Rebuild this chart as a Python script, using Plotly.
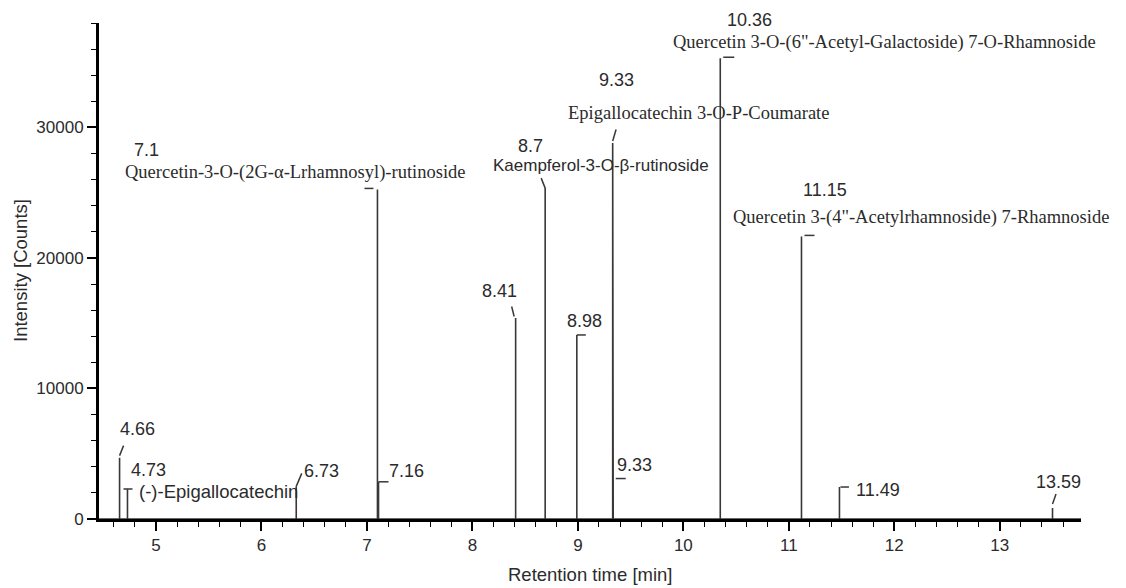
import plotly.graph_objects as go

# ---------------- data ----------------
retention_time = [4.655, 4.73, 6.33, 7.10, 7.11, 8.41, 8.69, 8.99, 9.33, 9.335, 10.35, 11.12, 11.48, 13.50]
intensity = [4700, 2300, 2500, 25250, 2850, 15400, 25350, 14100, 28800, 3100, 35300, 21650, 2450, 840]
peak_label = ["4.66", "4.73", "6.73", "7.1", "7.16", "8.41", "8.7", "8.98", "9.33", "9.33",
              "10.36", "11.15", "11.49", "13.59"]
compound = ["", "(-)-Epigallocatechin", "", "Quercetin-3-O-(2G-α-Lrhamnosyl)-rutinoside", "", "",
            "Kaempferol-3-O-β-rutinoside", "", "Epigallocatechin 3-O-P-Coumarate", "",
            'Quercetin 3-O-(6"-Acetyl-Galactoside) 7-O-Rhamnoside',
            'Quercetin 3-(4"-Acetylrhamnoside) 7-Rhamnoside', "", ""]
x_ticks = [5, 6, 7, 8, 9, 10, 11, 12, 13]
y_ticks = [0, 10000, 20000, 30000]
x_title = "Retention time [min]"
y_title = "Intensity [Counts]"

# ---------------- label placement (pixel offsets from each peak top) ----------------
label_pos = [("center", 18.1, 28.7), ("center", 20.8, 19.3), ("left", 5.7, 15), ("center", -230.9, 39.1),
             ("left", 8.1, 10.4), ("center", -16.5, 26.6), ("center", -14.4, 41.8), ("center", 7.5, 13.6),
             ("center", 3.5, 63.5), ("left", 2.2, 13.1), ("center", 28.8, 38.6), ("center", 23.3, 46.1),
             ("left", 14.7, -2.7), ("center", 5.5, 25.6)]
name_pos = {1: (9.2, -3, "sans"), 3: (-254.3, 16.5, "serif"), 6: (-53.7, 22.8, "sans"),
            8: (-47.1, 30.2, "serif"), 10: (-49.7, 15.9, "serif"), 11: (-70, 18.5, "serif")}
marks = [(0, 2, 4, 12), (-4, 0, 5, 0), (0, 0, 5.5, 13), (-13, 1, -4, 1), (0, 0, 10, 0),
         (-1.5, 1.5, -4, 11.5), (0, 0, -4, 10), (0, 0, 9, 0), (0, 2, 3.4, 13.5), (2.5, 0, 12.5, 0),
         (3, 1, 14, 1), (3, 1, 13, 1), (1, 0, 9.5, 0), (0, 4, 3.5, 14)]

SANS = "Liberation Sans, Arial, sans-serif"
SERIF = "Liberation Serif, Times New Roman, serif"
INK = "#2b2b2b"
X_RANGE = [4.46, 13.77]
Y_RANGE = [0, 38000]

# stick chromatogram built from the peak list
order = sorted(range(len(retention_time)), key=lambda i: retention_time[i])
xs, ys = [X_RANGE[0]], [0]
for i in order:
    xs += [retention_time[i], retention_time[i], retention_time[i]]
    ys += [0, intensity[i], 0]
xs.append(X_RANGE[1])
ys.append(0)

fig = go.Figure()
fig.add_trace(go.Scatter(x=xs, y=ys, mode="lines", line=dict(color="#383838", width=1.6),
                         hoverinfo="skip", showlegend=False))

shapes = []
annotations = []
for i, (rt, h) in enumerate(zip(retention_time, intensity)):
    x0, y0, x1, y1 = marks[i]
    shapes.append(dict(type="line", xref="x", yref="y", xsizemode="pixel", ysizemode="pixel",
                       xanchor=rt, yanchor=h, x0=x0, y0=y0, x1=x1, y1=y1,
                       line=dict(color="#383838", width=1.5)))
    anc, dx, dy = label_pos[i]
    annotations.append(dict(x=rt, y=h, xref="x", yref="y", text=peak_label[i], showarrow=False,
                            xanchor=anc, yanchor="middle", xshift=dx, yshift=dy,
                            font=dict(family=SANS, size=18, color=INK)))
    if compound[i]:
        ndx, ndy, kind = name_pos[i]
        fam = SERIF if kind == "serif" else SANS
        size = 18.5 if kind == "serif" else (17 if i == 6 else 18.5)
        annotations.append(dict(x=rt, y=h, xref="x", yref="y", text=compound[i], showarrow=False,
                                xanchor="left", yanchor="middle", xshift=ndx, yshift=ndy,
                                font=dict(family=fam, size=size, color=INK)))

annotations.append(dict(x=0.5, y=0, xref="paper", yref="paper", text=x_title, showarrow=False,
                        xanchor="center", yanchor="middle", yshift=-55,
                        font=dict(family=SANS, size=18.5, color=INK)))
annotations.append(dict(x=0, y=0.5, xref="paper", yref="paper", text=y_title, showarrow=False,
                        xanchor="center", yanchor="middle", xshift=-79, textangle=-90,
                        font=dict(family=SANS, size=18.5, color=INK)))

axis_common = dict(showline=True, linewidth=3, linecolor="black", ticks="outside", ticklen=9,
                   tickwidth=1.5, tickcolor="black", showgrid=False, zeroline=False,
                   tickfont=dict(family=SANS, size=17, color=INK))

fig.update_layout(
    width=1126, height=588,
    margin=dict(l=99, r=45, t=23, b=69),
    paper_bgcolor="white", plot_bgcolor="white",
    shapes=shapes, annotations=annotations,
    xaxis=dict(range=X_RANGE, tickvals=x_ticks, ticktext=[str(v) for v in x_ticks],
               minor=dict(dtick=0.2, tick0=0, ticklen=5, tickwidth=1.3, tickcolor="black", ticks="outside"),
               **axis_common),
    yaxis=dict(range=Y_RANGE, tickvals=y_ticks, ticktext=[str(v) for v in y_ticks],
               minor=dict(dtick=2000, tick0=0, ticklen=5, tickwidth=1.3, tickcolor="black", ticks="outside"),
               **axis_common),
)

fig.write_html("out.html")
